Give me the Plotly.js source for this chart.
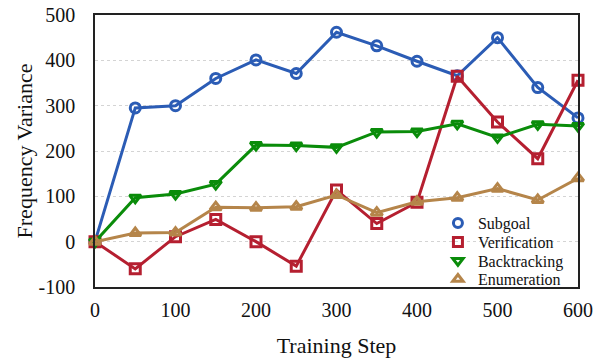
<!DOCTYPE html>
<html>
<head>
<meta charset="utf-8">
<script src="https://cdn.plot.ly/plotly-3.0.1.min.js"></script>
<style>
  body { margin: 0; background: #fff; }
  #grafica { width: 598px; height: 363px; }
</style>
</head>
<body>
<div id="grafica"></div>
<script>
const pasos = [0, 50, 100, 150, 200, 250, 300, 350, 400, 450, 500, 550, 600];
const subgoal = [0, 295, 300, 360, 401, 371, 462, 432, 398, 366, 450, 340, 273];
const verification = [0, -60, 11, 49, 0, -54, 114, 40, 87, 365, 264, 183, 356];
const backtracking = [0, 97, 105, 127, 213, 212, 208, 242, 243, 260, 230, 259, 255];
const enumeration = [0, 19, 20, 76, 75, 77, 103, 64, 88, 97, 117, 92, 140];

const ticksX = [0, 100, 200, 300, 400, 500, 600];
const ticksY = [-100, 0, 100, 200, 300, 400, 500];
const etiquetasY = ["-100", "0", "100", "200", "300", "400", "500"];

const series = [
  { name: "Subgoal", y: subgoal, color: "#2b5cb5", symbol: "circle-open" },
  { name: "Verification", y: verification, color: "#b51f30", symbol: "square-open" },
  { name: "Backtracking", y: backtracking, color: "#0a8c0a", symbol: "triangle-down-open" },
  { name: "Enumeration", y: enumeration, color: "#b5854a", symbol: "triangle-up-open" }
];

const fuente = "'Liberation Serif', 'Times New Roman', Times, serif";
const data = [];
// lineas con marcadores
series.forEach(function (s) {
  data.push({
    x: pasos,
    y: s.y,
    type: "scatter",
    mode: "lines+markers",
    name: s.name,
    showlegend: false,
    cliponaxis: false,
    line: { color: s.color, width: 3 },
    marker: { symbol: s.symbol, size: 10, color: s.color, line: { width: 3, color: s.color } }
  });
});
// entradas de leyenda (solo marcador), una leyenda por serie
const nombresLeyenda = ["legend", "legend2", "legend3", "legend4"];
series.forEach(function (s, i) {
  data.push({
    x: [null],
    y: [null],
    type: "scatter",
    mode: "markers",
    name: s.name,
    legend: nombresLeyenda[i],
    marker: { symbol: s.symbol, size: 9, color: s.color, line: { width: 3, color: s.color } }
  });
});

const layout = {
  width: 598,
  height: 363,
  margin: { l: 95, r: 20, t: 15, b: 76 },
  paper_bgcolor: "#fff",
  plot_bgcolor: "#fff",
  font: { family: fuente, size: 18, color: "#111" },
  xaxis: {
    range: [0, 600],
    tickvals: ticksX,
    tickfont: { family: fuente, size: 20, color: "#111" },
    showgrid: false,
    zeroline: false,
    showline: true,
    mirror: true,
    linecolor: "#222",
    linewidth: 1.5,
    ticks: "",
    ticklabelstandoff: 4,
    title: { text: "Training Step", font: { family: fuente, size: 22 }, standoff: 18 }
  },
  yaxis: {
    range: [-100, 500],
    tickvals: ticksY,
    ticktext: etiquetasY,
    tickfont: { family: fuente, size: 20, color: "#111" },
    showgrid: true,
    gridcolor: "#d4d4d4",
    griddash: "dot",
    gridwidth: 1,
    zeroline: false,
    showline: true,
    mirror: true,
    linecolor: "#222",
    linewidth: 1.5,
    ticks: "",
    ticklabelstandoff: 14,
    title: { text: "Frequency Variance", font: { family: fuente, size: 22 }, standoff: 0 }
  }
};

// posiciones de las leyendas (centros de fila en pixeles: 223, 242, 261, 279)
const filasY = [0.235, 0.165, 0.096, 0.029];
nombresLeyenda.forEach(function (nombre, i) {
  layout[nombre] = {
    x: 0.71,
    y: filasY[i],
    xanchor: "left",
    yanchor: "middle",
    bgcolor: "rgba(0,0,0,0)",
    font: { family: fuente, size: 16, color: "#111" }
  };
});

Plotly.newPlot("grafica", data, layout, { displayModeBar: false });
</script>
</body>
</html>
